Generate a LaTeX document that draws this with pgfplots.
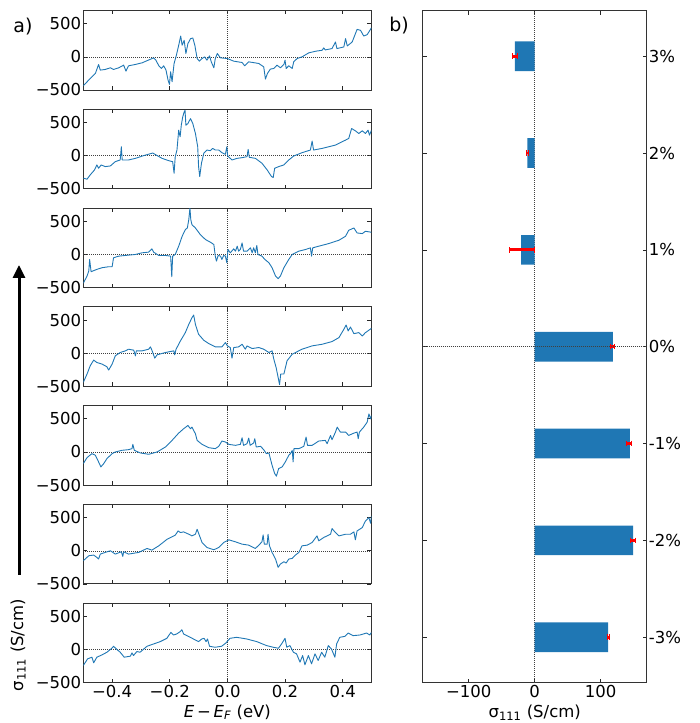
\documentclass[border=0pt]{standalone}
\usepackage{fontspec}
\setmainfont{DejaVu Sans}
\usepackage{pgfplots}
\pgfplotsset{compat=1.18}
\usetikzlibrary{arrows.meta}
\definecolor{mplblue}{HTML}{1F77B4}
\newcommand{\tfont}{\fontsize{16.5}{19}\selectfont}
\tikzset{
  zline/.style={black!75, line width=0.5pt, dash pattern=on 1pt off 1pt},
  curve/.style={mplblue, line width=0.9pt, line join=round},
}
\pgfplotsset{
  common/.style={
    scale only axis,
    tick align=inside, xtick pos=both, ytick pos=both,
    major tick length=4pt,
    tick style={black!85, line width=0.7pt},
    axis line style={black!80, line width=0.9pt},
    every tick label/.append style={font=\tfont},
    /pgf/number format/assume math mode=true,
  },
  panel/.style={
    common,
    width=288.2pt, height=79.5pt,
    xmin=-0.5, xmax=0.5, ymin=-500, ymax=700,
    xtick={-0.4,-0.2,0,0.2,0.4}, ytick={-500,0,500},
    yticklabels={−500,0,500}, xticklabels={},
    yticklabel style={inner sep=2pt},
    xticklabel style={inner sep=2pt},
  },
}
\begin{document}
\begin{tikzpicture}
\path[use as bounding box] (0,0) rectangle (699pt,723pt);

% ---------- panel 1 : 3% ----------
\begin{axis}[panel, at={(83.3pt,633pt)}, anchor=south west]
\draw[zline] (axis cs:-0.5,0) -- (axis cs:0.5,0);
\draw[zline] (axis cs:0,-500) -- (axis cs:0,700);
\addplot[curve] table {
-0.500 -435
-0.481 -350
-0.458 -250
-0.447 -115
-0.441 -200
-0.424 -190
-0.406 -165
-0.395 -190
-0.377 -165
-0.360 -125
-0.352 -215
-0.343 -135
-0.320 -115
-0.296 -90
-0.256 -15
-0.248 -50
-0.238 -135
-0.229 -175
-0.221 -135
-0.213 -200
-0.206 -350
-0.201 -415
-0.197 -225
-0.192 -375
-0.185 -100
-0.177 25
-0.169 175
-0.162 315
-0.157 175
-0.150 250
-0.144 50
-0.137 200
-0.128 275
-0.120 285
-0.113 175
-0.105 -25
-0.097 -65
-0.088 -25
-0.079 0
-0.071 -50
-0.062 15
-0.056 -75
-0.047 -165
-0.042 -25
-0.035 50
-0.024 -15
0.000 -25
0.022 -65
0.051 -85
0.060 -135
0.074 -75
0.109 -100
0.126 -150
0.132 -335
0.139 -250
0.149 -185
0.161 -175
0.172 -125
0.184 -165
0.196 -115
0.200 -50
0.204 -175
0.213 -135
0.225 -175
0.230 -75
0.242 -25
0.259 0
0.282 60
0.306 85
0.329 100
0.334 135
0.340 105
0.363 125
0.375 225
0.380 125
0.404 150
0.410 275
0.416 165
0.433 225
0.450 415
0.462 400
0.473 315
0.485 335
0.500 440
};
\end{axis}

% ---------- panel 2 : 2% ----------
\begin{axis}[panel, at={(83.3pt,534.2pt)}, anchor=south west]
\draw[zline] (axis cs:-0.5,0) -- (axis cs:0.5,0);
\draw[zline] (axis cs:0,-500) -- (axis cs:0,700);
\addplot[curve] table {
-0.500 -340
-0.487 -355
-0.476 -290
-0.461 -215
-0.453 -140
-0.447 -190
-0.438 -140
-0.424 -165
-0.406 -155
-0.389 -90
-0.372 -65
-0.368 135
-0.365 -65
-0.343 -65
-0.319 -40
-0.291 0
-0.259 40
-0.227 -40
-0.204 -75
-0.190 -90
-0.185 -265
-0.181 -15
-0.175 85
-0.169 385
-0.164 285
-0.160 460
-0.155 585
-0.150 660
-0.147 685
-0.144 460
-0.137 485
-0.128 560
-0.120 485
-0.111 335
-0.103 135
-0.100 -165
-0.096 -315
-0.090 -115
-0.082 35
-0.071 85
-0.059 75
-0.051 110
-0.042 85
-0.030 85
-0.019 45
-0.007 20
-0.002 135
0.001 -5
0.016 -65
0.034 -40
0.051 -30
0.068 -15
0.072 95
0.076 -25
0.097 -40
0.120 -115
0.138 -215
0.153 -315
0.159 -330
0.164 -190
0.178 -165
0.196 -140
0.213 -65
0.230 -5
0.259 45
0.288 85
0.294 220
0.299 85
0.329 110
0.375 160
0.410 235
0.421 260
0.431 410
0.444 375
0.456 335
0.468 375
0.479 335
0.488 385
0.493 310
0.500 385
};
\end{axis}

% ---------- panel 3 : 1% ----------
\begin{axis}[panel, at={(83.3pt,435.4pt)}, anchor=south west]
\draw[zline] (axis cs:-0.5,0) -- (axis cs:0.5,0);
\draw[zline] (axis cs:0,-500) -- (axis cs:0,700);
\addplot[curve] table {
-0.500 -435
-0.487 -325
-0.481 -250
-0.478 -75
-0.473 -260
-0.453 -225
-0.435 -200
-0.412 -185
-0.400 -185
-0.395 -50
-0.377 -25
-0.343 -10
-0.319 0
-0.296 25
-0.273 35
-0.262 85
-0.256 35
-0.238 -15
-0.215 -15
-0.197 -25
-0.193 -335
-0.190 -25
-0.181 0
-0.169 125
-0.157 275
-0.146 375
-0.139 400
-0.134 525
-0.130 700
-0.127 525
-0.123 450
-0.111 400
-0.094 300
-0.076 225
-0.059 185
-0.047 150
-0.042 -25
-0.038 -100
-0.032 -15
-0.024 -25
-0.019 -75
-0.013 -15
-0.007 -25
-0.002 -125
0.002 75
0.010 25
0.022 85
0.028 50
0.034 125
0.039 50
0.045 75
0.051 175
0.056 50
0.068 50
0.080 100
0.086 25
0.091 100
0.097 25
0.102 135
0.106 0
0.120 -25
0.130 -75
0.144 -125
0.155 -200
0.167 -325
0.176 -365
0.184 -325
0.196 -200
0.213 -75
0.225 0
0.248 50
0.271 75
0.288 100
0.292 -25
0.296 100
0.317 125
0.352 165
0.387 215
0.410 275
0.421 365
0.439 400
0.450 325
0.468 315
0.479 350
0.500 335
};
\end{axis}

% ---------- panel 4 : 0% ----------
\begin{axis}[panel, at={(83.3pt,336.7pt)}, anchor=south west]
\draw[zline] (axis cs:-0.5,0) -- (axis cs:0.5,0);
\draw[zline] (axis cs:0,-500) -- (axis cs:0,700);
\addplot[curve] table {
-0.500 -440
-0.487 -315
-0.476 -190
-0.464 -105
-0.453 -140
-0.435 -165
-0.418 -205
-0.412 -255
-0.400 -165
-0.389 -40
-0.372 10
-0.354 35
-0.343 60
-0.325 45
-0.319 -40
-0.316 35
-0.296 35
-0.273 60
-0.267 95
-0.262 45
-0.252 -75
-0.244 -25
-0.215 10
-0.186 35
-0.183 -25
-0.178 60
-0.163 185
-0.146 310
-0.134 435
-0.123 535
-0.117 575
-0.111 435
-0.100 285
-0.082 195
-0.065 145
-0.042 95
-0.019 95
-0.007 160
0.000 110
0.010 85
0.016 -75
0.022 85
0.039 95
0.051 135
0.062 60
0.068 110
0.086 70
0.109 85
0.126 60
0.144 10
0.155 35
0.161 -90
0.169 -215
0.176 -365
0.181 -475
0.185 -315
0.196 -315
0.207 -115
0.225 -15
0.259 60
0.294 110
0.329 135
0.363 175
0.387 235
0.404 360
0.412 425
0.419 335
0.427 395
0.439 295
0.456 310
0.468 260
0.479 310
0.500 375
};
\end{axis}

% ---------- panel 5 : -1% ----------
\begin{axis}[panel, at={(83.3pt,237.9pt)}, anchor=south west]
\draw[zline] (axis cs:-0.5,0) -- (axis cs:0.5,0);
\draw[zline] (axis cs:0,-500) -- (axis cs:0,700);
\addplot[curve] table {
-0.500 -175
-0.487 -85
-0.470 -25
-0.458 -50
-0.447 -150
-0.439 -225
-0.429 -175
-0.418 -100
-0.400 -25
-0.389 0
-0.366 25
-0.343 35
-0.331 50
-0.328 115
-0.323 25
-0.302 -15
-0.273 -35
-0.244 0
-0.215 75
-0.192 175
-0.169 285
-0.152 350
-0.137 400
-0.128 350
-0.123 375
-0.111 275
-0.105 175
-0.088 115
-0.065 65
-0.042 50
-0.030 85
-0.019 165
-0.007 150
0.005 115
0.028 100
0.045 115
0.051 215
0.056 100
0.068 125
0.074 210
0.079 100
0.091 135
0.095 200
0.100 75
0.115 85
0.126 35
0.135 -25
0.144 -15
0.155 -200
0.164 -325
0.170 -365
0.178 -250
0.190 -225
0.201 -150
0.213 -50
0.219 -25
0.225 25
0.228 -150
0.231 50
0.248 50
0.265 85
0.273 225
0.278 100
0.294 100
0.317 165
0.340 175
0.346 125
0.358 250
0.363 185
0.375 300
0.381 375
0.392 300
0.410 300
0.421 250
0.439 285
0.450 300
0.454 200
0.458 300
0.473 375
0.485 450
0.491 575
0.497 500
0.500 550
};
\end{axis}

% ---------- panel 6 : -2% ----------
\begin{axis}[panel, at={(83.3pt,139.1pt)}, anchor=south west]
\draw[zline] (axis cs:-0.5,0) -- (axis cs:0.5,0);
\draw[zline] (axis cs:0,-500) -- (axis cs:0,700);
\addplot[curve] table {
-0.500 -150
-0.481 -75
-0.464 -65
-0.453 -100
-0.447 -125
-0.441 -50
-0.424 -25
-0.406 0
-0.389 -50
-0.368 -15
-0.363 -85
-0.360 -15
-0.343 -50
-0.308 -25
-0.279 35
-0.262 10
-0.238 75
-0.209 175
-0.181 235
-0.171 300
-0.163 275
-0.152 285
-0.134 250
-0.123 225
-0.111 250
-0.105 325
-0.100 265
-0.088 125
-0.071 50
-0.047 15
-0.030 50
-0.013 125
0.005 165
0.028 135
0.051 100
0.074 85
0.097 35
0.109 85
0.120 135
0.124 240
0.128 100
0.138 100
0.141 250
0.146 75
0.155 -25
0.167 -125
0.176 -250
0.184 -200
0.196 -165
0.204 -185
0.213 -125
0.225 -115
0.236 -65
0.248 -25
0.259 75
0.277 85
0.294 125
0.311 225
0.317 150
0.334 200
0.358 250
0.363 335
0.375 275
0.387 225
0.410 250
0.427 250
0.439 285
0.444 165
0.450 300
0.468 350
0.479 450
0.491 500
0.497 415
0.500 525
};
\end{axis}

% ---------- panel 7 : -3% ----------
\begin{axis}[panel, at={(83.3pt,40.3pt)}, anchor=south west,
  xticklabels={−0.4,−0.2,0.0,0.2,0.4},
  xlabel={\textit{E}\,−\,\textit{E}\textsubscript{\textit{F}} (eV)},
  xlabel style={font=\tfont, at={(axis description cs:0.5,-0.37)}, anchor=center},
  ylabel={σ\textsubscript{111} (S/cm)},
  ylabel style={font=\tfont, at={(axis description cs:-0.226,0.474)}, anchor=center, rotate=0},
]
\draw[zline] (axis cs:-0.5,0) -- (axis cs:0.5,0);
\draw[zline] (axis cs:0,-500) -- (axis cs:0,700);
\addplot[curve] table {
-0.500 -240
-0.485 -140
-0.470 -115
-0.464 -200
-0.453 -115
-0.435 -80
-0.418 -40
-0.401 20
-0.395 50
-0.383 0
-0.372 -40
-0.358 -115
-0.337 -100
-0.331 -50
-0.326 -90
-0.314 -30
-0.303 -40
-0.279 50
-0.256 85
-0.233 120
-0.210 170
-0.196 260
-0.187 220
-0.176 235
-0.164 270
-0.158 300
-0.152 235
-0.129 185
-0.100 120
-0.089 160
-0.081 170
-0.074 120
-0.069 160
-0.062 50
-0.043 35
-0.020 50
-0.005 100
0.009 170
0.032 185
0.067 160
0.102 120
0.136 60
0.159 35
0.177 20
0.188 85
0.200 170
0.206 35
0.217 60
0.229 -40
0.240 -65
0.252 -190
0.261 -90
0.269 -230
0.281 -90
0.292 -215
0.304 -65
0.315 -165
0.327 -40
0.338 -115
0.350 60
0.361 10
0.373 -115
0.379 85
0.390 185
0.408 200
0.419 250
0.436 210
0.460 220
0.483 250
0.494 220
0.500 260
};
\end{axis}

% ---------- right panel ----------
\begin{axis}[common, width=224pt, height=672pt, at={(422.7pt,40.3pt)}, anchor=south west,
  xmin=-170, xmax=170, ymin=-0.47, ymax=6.47,
  xtick={-100,0,100}, xticklabels={−100,0,100},
  ytick={0,1,2,3,4,5,6}, yticklabels={-3\%,-2\%,-1\%,0\%,1\%,2\%,3\%},
  yticklabel pos=right,
  yticklabel style={inner sep=2pt},
  xticklabel style={inner sep=2pt},
  xlabel={σ\textsubscript{111} (S/cm)},
  xlabel style={font=\tfont, at={(axis description cs:0.5,-0.045)}, anchor=center},
]
\draw[zline] (axis cs:0,-0.47) -- (axis cs:0,6.47);
\addplot[xbar, bar width=29.7pt, fill=mplblue, draw=none] table[x=v, y=p] {
p v
0 111.5
1 149.5
2 144.5
3 118.5
4 -20.5
5 -11
6 -30
};
\addplot[draw=none, mark=none,
  error bars/.cd, x dir=both, x explicit,
  error bar style={draw=red, line width=2.8pt},
  error mark=|,
  error mark options={draw=red, line width=1pt, mark size=2.8pt}]
  table[x=v, y=p, x error=e] {
p v e
0 111.5 1.5
1 149.0 3.5
2 143.0 3.5
3 118.5 3
4 -20.0 19
5 -11 2
6 -30 3.5
};
\draw[zline] (axis cs:-170,3) -- (axis cs:170,3);
\end{axis}

% annotations
\node at (23pt,696pt) {\fontsize{19}{22}\selectfont a)};
\node at (399pt,697pt) {\fontsize{19}{22}\selectfont b)};
\draw[line width=3pt, -{Triangle[length=13pt,width=12pt]}] (19pt,148pt) -- (19pt,458pt);
\end{tikzpicture}
\end{document}
